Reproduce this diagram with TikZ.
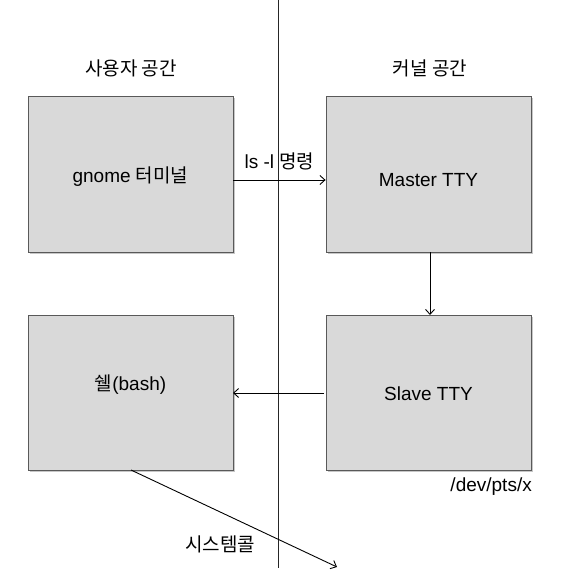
\documentclass[tikz,border=0pt]{standalone}
\usepackage{fontspec}
\setmainfont{Liberation Sans}
\newfontfamily\krf{Noto Sans CJK KR}
\newcommand\kr[1]{{\krf #1}}
\usetikzlibrary{arrows.meta}
\begin{document}
\begin{tikzpicture}[x=1pt,y=-1pt,
  box/.style={draw=black!65,fill=black!15,minimum width=205pt,minimum height=156pt,inner sep=0pt,line width=0.8pt},
  lbl/.style={font=\fontsize{19}{21}\selectfont,inner sep=0pt},
  conn/.style={line width=0.9pt,-{Straight Barb[length=5pt,width=9pt]}}]
\useasboundingbox (0,0) rectangle (572,580);
\fill[black!22] (30,98) rectangle (235,254);
\fill[black!22] (328,98) rectangle (533,254);
\fill[black!22] (30,317) rectangle (235,472);
\fill[black!22] (328,317) rectangle (533,472);
\node[box] (gnome) at (130.5,174) {};
\node[box] (master) at (428.5,174) {};
\node[box,minimum height=155pt] (shell) at (130.5,392.5) {};
\node[box,minimum height=155pt] (slave) at (428.5,392.5) {};
\node[lbl] at (gnome.center) [yshift=-3pt] {gnome \kr{터미널}};
\node[lbl] at (master.center) [yshift=-6pt] {Master TTY};
\node[lbl] at (shell.center) [yshift=8pt] {\kr{쉘}(bash)};
\node[lbl] at (slave.center) [yshift=-1pt] {Slave TTY};
\coordinate (top) at (278,0);
\coordinate (bot) at (278,568);
\draw[line width=0.8pt,black!85] (top) -- (bot);
\node[lbl] (user) at (131,68) {\kr{사용자 공간}};
\node[lbl] (kern) at (430,68) {\kr{커널 공간}};
\node[lbl,anchor=north east] (dev) at (532,478) {/dev/pts/x};
\draw[conn] (gnome.east |- 0,180) -- (master.west |- 0,180) node[lbl,pos=0.5,above=9pt] (cmd) {ls -l \kr{명령}};
\draw[conn] (430,252) -- (430,315);
\draw[conn] (324,393) -- (233,393);
\coordinate (sysend) at (337,567);
\draw[conn] (131,470) -- (sysend);
\node[lbl] (sys) at (220,544) {\kr{시스템콜}};
\end{tikzpicture}
\end{document}
